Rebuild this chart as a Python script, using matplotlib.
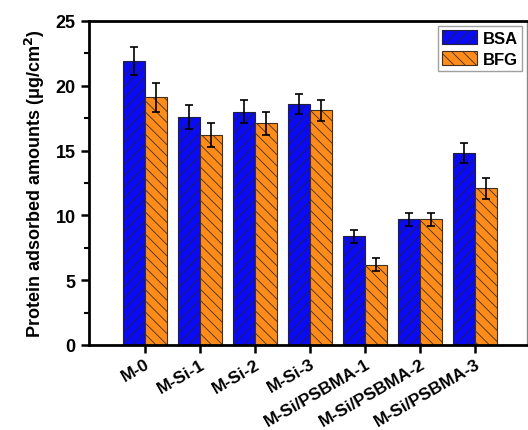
import matplotlib
matplotlib.use("Agg")
import matplotlib.pyplot as plt
import numpy as np
from matplotlib.ticker import MultipleLocator

plt.rcParams['font.family'] = ['Liberation Sans', 'DejaVu Sans']
plt.rcParams['hatch.linewidth'] = 0.6

categories = ["M-0", "M-Si-1", "M-Si-2", "M-Si-3", "M-Si/PSBMA-1", "M-Si/PSBMA-2", "M-Si/PSBMA-3"]
bsa = [21.9, 17.6, 18.0, 18.6, 8.4, 9.7, 14.8]
bsa_err = [1.1, 0.9, 0.9, 0.8, 0.5, 0.5, 0.75]
bfg = [19.1, 16.2, 17.1, 18.1, 6.2, 9.7, 12.1]
bfg_err = [1.15, 0.9, 0.9, 0.8, 0.5, 0.5, 0.8]

fig = plt.figure(figsize=(5.28, 4.31), dpi=100)
ax = fig.add_axes([89/528, 1-346/431, (527-89)/528, (346-22)/431])

x = np.arange(len(categories))
w = 0.4
ekw = dict(elinewidth=1.2, capsize=3, capthick=1.2, ecolor='black')
ax.bar(x - w/2, bsa, w, yerr=bsa_err, color='#0a0af5', edgecolor='#202040',
       linewidth=0.8, hatch='///', label='BSA', error_kw=ekw)
ax.bar(x + w/2, bfg, w, yerr=bfg_err, color='#ff8c1a', edgecolor='#403020',
       linewidth=0.8, hatch='\\\\\\', label='BFG', error_kw=ekw)

ax.set_xlim(-1.02, 6.95)
ax.set_ylim(0, 25)
ax.yaxis.set_major_locator(MultipleLocator(5))
ax.yaxis.set_minor_locator(MultipleLocator(2.5))
ax.set_xticks(x)
ax.set_xticklabels(categories, rotation=30, ha='right', rotation_mode='anchor',
                   fontsize=12.5, fontweight='bold')
for lab in ax.get_yticklabels():
    lab.set_fontweight('bold')
ax.tick_params(axis='y', which='major', direction='out', length=6, width=1.8, labelsize=13)
ax.tick_params(axis='y', which='minor', direction='out', length=3.5, width=1.5)
ax.tick_params(axis='x', which='major', direction='out', length=6, width=1.8, pad=2)

for s in ['left', 'bottom', 'top']:
    ax.spines[s].set_linewidth(2)
ax.spines['right'].set_linewidth(1)
ax.spines['right'].set_color('#888888')

ax.set_ylabel('Protein adsorbed amounts (μg/cm$^\\mathbf{2}$)', fontsize=13,
              fontweight='bold', labelpad=6)

leg = ax.legend(loc='upper right', prop={'weight': 'bold', 'size': 12},
                frameon=True, fancybox=False, edgecolor='#888888',
                handlelength=2.1, handleheight=0.9, borderpad=0.25,
                labelspacing=0.3, handletextpad=0.35, borderaxespad=0.3)
leg.get_frame().set_linewidth(1)

fig.savefig('out.png', dpi=100)
